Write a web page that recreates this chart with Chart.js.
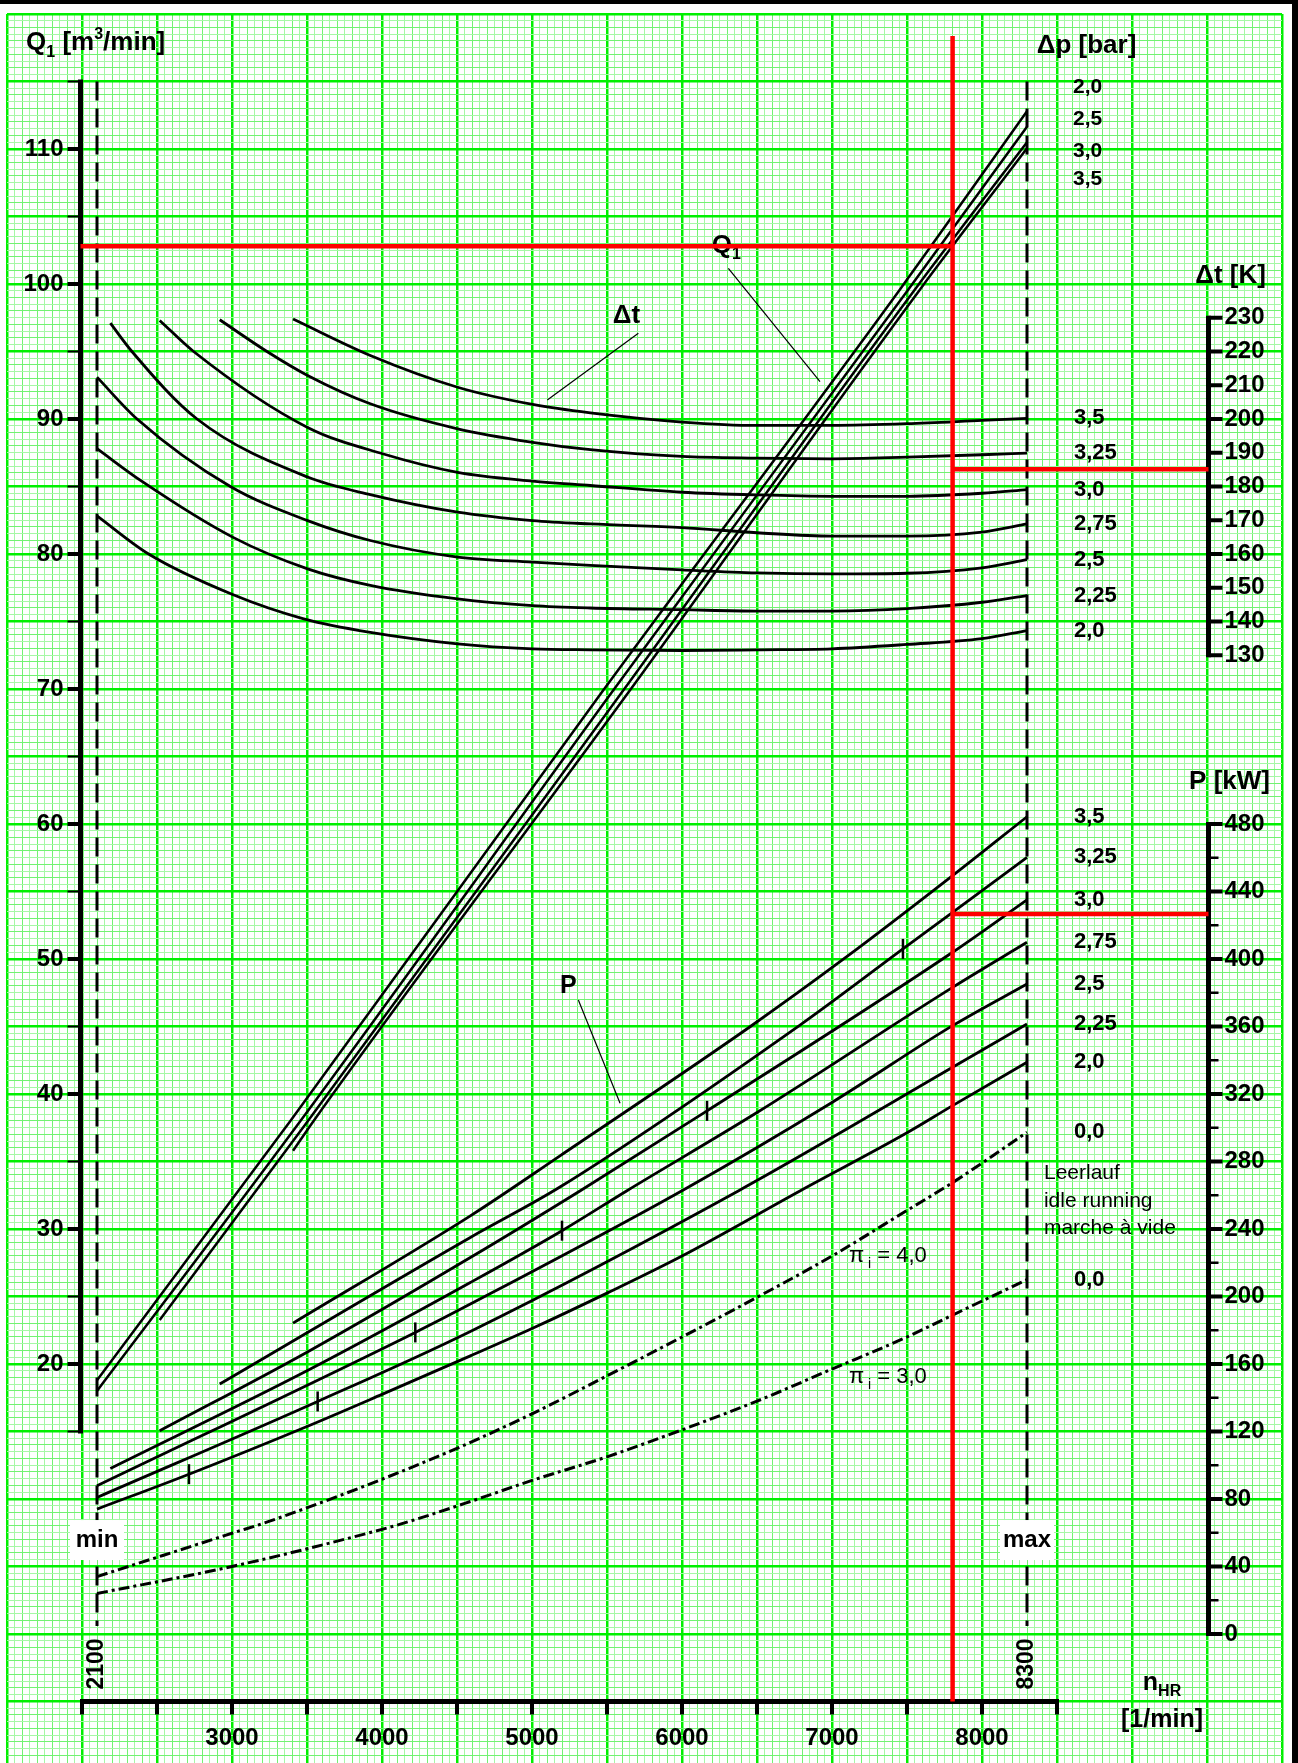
<!DOCTYPE html>
<html lang="de">
<head>
<meta charset="utf-8">
<title>Q1 / Δt / P über nHR</title>
<script src="https://cdn.jsdelivr.net/npm/chart.js@4.4.1/dist/chart.umd.min.js"></script>
<style>
  html, body { margin: 0; padding: 0; background: #fff; }
  #box { width: 1298px; height: 1763px; }
</style>
</head>
<body>
<div id="box"><canvas id="diagram" width="1298" height="1763"></canvas></div>
<script>
// ---- values ----

// speed axis n_HR [1/min]
const speedTicks = [3000, 4000, 5000, 6000, 7000, 8000];
const speedLimits = [2100, 8300];
const speedLimitNames = ['min', 'max'];

// axis tick labels
const flowTicks = [20, 30, 40, 50, 60, 70, 80, 90, 100, 110];
const tempTicks = [130, 140, 150, 160, 170, 180, 190, 200, 210, 220, 230];
const powerTicks = [0, 40, 80, 120, 160, 200, 240, 280, 320, 360, 400, 440, 480];

// Q1 [m3/min] for Δp = 2,0 / 2,5 / 3,0 / 3,5 bar
const flowNames = ['2,0', '2,5', '3,0', '3,5'];
const flowRpm20 = [2100, 3389, 5475, 7453, 8300];
const flow20 = [18.8, 38.0, 69.9, 99.6, 112.8];
const flowRpm25 = [2100, 3456, 5542, 7509, 8300];
const flow25 = [18.0, 38.0, 69.9, 99.6, 111.65];
const flowRpm30 = [2518, 3506, 5609, 7553, 8300];
const flow30 = [23.25, 38.0, 69.9, 99.6, 110.5];
const flowRpm35 = [3407, 3544, 5653, 7587, 8300];
const flow35 = [35.8, 38.0, 69.9, 99.6, 110.05];

// Δt [K] for Δp = 2,0 ... 3,5 bar
const curveNames = ['2,0', '2,25', '2,5', '2,75', '3,0', '3,25', '3,5'];
const tempRpm200 = [2100, 2444, 3004, 3478, 3922, 4504, 5004, 5389, 6000, 6500, 7000, 7500, 8000, 8300];
const temp200 = [171.3, 160.0, 148.0, 140.8, 136.8, 133.4, 131.9, 131.6, 131.4, 131.6, 131.9, 133.2, 134.9, 137.3];
const tempRpm225 = [2100, 2400, 3004, 3504, 3922, 4504, 5004, 5389, 6000, 6500, 7000, 7500, 8000, 8300];
const temp225 = [191.2, 181.5, 165.0, 155.6, 150.7, 146.7, 144.7, 144.0, 143.5, 143.1, 143.1, 143.8, 145.7, 147.7];
const tempRpm250 = [2100, 2367, 2989, 3504, 3922, 4504, 5004, 5389, 6000, 6500, 7000, 7500, 8000, 8300];
const temp250 = [212.4, 200.0, 180.0, 169.9, 164.0, 159.1, 157.6, 156.6, 155.3, 154.4, 154.1, 154.3, 155.9, 158.3];
const tempRpm275 = [2189, 2333, 2767, 3504, 3922, 4504, 5004, 5389, 6000, 6500, 7000, 7500, 8000, 8300];
const temp275 = [228.4, 220.0, 200.0, 182.8, 177.6, 172.4, 169.9, 168.9, 167.8, 166.3, 165.3, 165.3, 166.5, 168.9];
const tempRpm300 = [2518, 2744, 3504, 4004, 4504, 5004, 5389, 6000, 6500, 7000, 7500, 8000, 8300];
const temp300 = [229.2, 220.0, 197.5, 189.7, 184.2, 181.6, 180.3, 178.3, 177.5, 177.1, 177.1, 178.0, 179.1];
const tempRpm325 = [2918, 3233, 3504, 3922, 4504, 5004, 5389, 6000, 6500, 7000, 7500, 8000, 8300];
const temp325 = [229.4, 220.0, 212.9, 204.5, 197.1, 193.1, 190.9, 188.9, 188.4, 188.2, 188.7, 189.4, 189.9];
const tempRpm350 = [3407, 3922, 4504, 5004, 5389, 6000, 6500, 7000, 7500, 8000, 8300];
const temp350 = [229.6, 218.8, 209.4, 204.3, 201.8, 199.1, 198.1, 198.1, 198.6, 199.6, 200.2];

// P [kW] for Δp = 2,0 ... 3,5 bar
const powerRpm200 = [2100, 2713, 3500, 4000, 4589, 5000, 5500, 6000, 6789, 7500, 7804, 8300];
const power200 = [74.0, 94.7, 123, 142, 164.8, 181, 202, 224, 262.7, 297, 313.1, 338.8];
const powerRpm225 = [2100, 3571, 4589, 6378, 7804, 8300];
const power225 = [80.9, 137.8, 179.3, 262.7, 335.8, 361.5];
const powerRpm250 = [2100, 4222, 4589, 6000, 7000, 7804, 8300];
const power250 = [87.8, 178.7, 195.5, 262.7, 315, 360.5, 385.2];
const powerRpm275 = [2189, 3500, 4589, 5200, 5633, 6500, 7804, 8300];
const power275 = [98.1, 156, 208.3, 239, 262.7, 309, 383.2, 409.9];
const powerRpm300 = [2518, 3500, 4589, 5322, 6167, 7804, 8300];
const power300 = [120.4, 167, 223.1, 262.7, 310, 404, 435];
const powerRpm325 = [2918, 4589, 5189, 6789, 7473, 7804, 8300];
const power325 = [148.1, 235, 265, 361, 406, 427.7, 460.2];
const powerRpm350 = [3407, 4589, 5189, 6456, 7078, 7804, 8300];
const power350 = [184.2, 247.8, 283.5, 360, 400, 449.4, 484.3];

// idle running (Δp = 0,0) for πi = 4,0 and 3,0
const idleRpm40 = [2100, 3000, 3256, 4389, 5000, 5500, 6000, 6500, 7000, 7500, 7804, 8300];
const idle40 = [34, 59.7, 67, 105.8, 130.5, 153, 176, 199.5, 224, 251, 267.5, 297.3];
const idleRpm30 = [2100, 3000, 4000, 4211, 4589, 5000, 5500, 6000, 6500, 7000, 7500, 7804, 8300];
const idle30 = [24, 40, 62, 67.5, 78.5, 91, 105, 121, 138, 157, 176, 189, 210];

// short marks on the power curves
const markRpm = [2713, 3571, 4222, 5200, 6167, 7473];
const markPower = [94.7, 137.8, 178.7, 239, 310, 406];

// red reading example
const readRpm = 7804;
const readFlow = 102.8;
const readTemp = 185.1;
const readPower = 426.7;

// ---- axis relations (all three value axes share one height) ----
const Q_TOP = 120;
const Q_BOTTOM = -9.556;
const tempOf = q => 130 + (q - 72.5) * 4;
const powerOf = q => q * 8;
const flowAxisRpm = 1990;
const rightAxisRpm = 9510;
const speedAxisQ = -5;

const FONT = '"Liberation Sans", Arial, Helvetica, sans-serif';

const pairs = (xs, ys) => xs.map((x, i) => ({ x: x, y: ys[i] }));
const last = a => a[a.length - 1];

function curve(xs, ys, axis, width, dash) {
  return {
    data: pairs(xs, ys),
    yAxisID: axis,
    borderColor: '#000',
    borderWidth: width,
    borderDash: dash || [],
    pointRadius: 0,
    fill: false,
    cubicInterpolationMode: 'monotone',
    order: 2
  };
}

function redLine(points, axis) {
  return {
    data: points, yAxisID: axis, borderColor: '#ff0000', borderWidth: 4.5,
    pointRadius: 0, fill: false, order: 0
  };
}

function setFont(c, size, bold) {
  c.font = (bold ? 'bold ' : '') + size + 'px ' + FONT;
}

function write(c, s, x, y, size, align, base, bold) {
  setFont(c, size, bold !== false);
  c.textAlign = align || 'left';
  c.textBaseline = base || 'middle';
  c.fillText(s, x, y);
}

// text with sub- and superscripts, parts = [[text, '' | 'sub' | 'sup']]
function writeRich(c, parts, x, y, size, align, bold) {
  const small = Math.round(size * 0.62);
  const b = bold !== false;
  let total = 0;
  const widths = parts.map(p => {
    setFont(c, p[1] ? small : size, b);
    const w = c.measureText(p[0]).width;
    total += w;
    return w;
  });
  let cx = align === 'center' ? x - total / 2 : align === 'right' ? x - total : x;
  c.textAlign = 'left';
  c.textBaseline = 'alphabetic';
  parts.forEach((p, i) => {
    setFont(c, p[1] ? small : size, b);
    const dy = p[1] === 'sub' ? size * 0.25 : p[1] === 'sup' ? -size * 0.42 : 0;
    c.fillText(p[0], cx, y + dy);
    cx += widths[i];
  });
}

function seg(c, x1, y1, x2, y2, w) {
  c.lineWidth = w;
  c.beginPath();
  c.moveTo(x1, y1);
  c.lineTo(x2, y2);
  c.stroke();
}

const tempEnds = [temp200, temp225, temp250, temp275, temp300, temp325, temp350].map(last);
const powerEnds = [power200, power225, power250, power275, power300, power325, power350].map(last);

const paper = {
  id: 'paper',
  beforeDraw(chart) {
    const c = chart.ctx;
    c.save();
    c.fillStyle = '#fff';
    c.fillRect(0, 0, chart.width, chart.height);
    c.restore();
  },
  beforeDatasetsDraw(chart) {
    const c = chart.ctx;
    const s = chart.scales;
    const X = v => s.x.getPixelForValue(v);
    const Q = v => s.y.getPixelForValue(v);
    const T = v => s.yT.getPixelForValue(v);
    const P = v => s.yP.getPixelForValue(v);
    c.save();
    c.strokeStyle = '#000';
    c.fillStyle = '#000';
    c.lineCap = 'butt';

    // frame
    c.fillRect(0, 0, chart.width, 4);
    c.fillRect(chart.width - 6, 0, 6, chart.height);

    // Q1 axis (left)
    const qa = X(flowAxisRpm);
    seg(c, qa, Q(115) - 2, qa, Q(15) + 2, 5);
    for (let v = 15; v <= 115; v += 5) seg(c, qa - 13, Q(v), qa, Q(v), v % 10 === 0 ? 4 : 2);
    flowTicks.forEach(v => write(c, String(v), qa - 17, Q(v), 24, 'right'));
    writeRich(c, [['Q', ''], ['1', 'sub'], [' [m', ''], ['3', 'sup'], ['/min]', '']], X(1627), Q(117.33), 26, 'left');

    // speed axis (bottom)
    const ny = Q(speedAxisQ);
    seg(c, X(2000) - 2, ny, X(8500) + 2, ny, 5);
    for (let v = 2000; v <= 8500; v += 500) seg(c, X(v), ny, X(v), ny + 13, 4);
    speedTicks.forEach(v => write(c, String(v), X(v), Q(-7.7), 24, 'center'));
    writeRich(c, [['n', ''], ['HR', 'sub']], X(9200), Q(-4.15), 25, 'center');
    write(c, '[1/min]', X(9200), Q(-6.89), 25, 'center', 'alphabetic');
    speedLimits.forEach(v => {
      c.save();
      c.translate(X(v), Q(-2.22));
      c.rotate(-Math.PI / 2);
      write(c, String(v), 0, 0, 23, 'center');
      c.restore();
    });

    // Δt axis and P axis (right)
    const ra = X(rightAxisRpm);
    seg(c, ra, T(130) + 2, ra, T(230) - 2, 5);
    tempTicks.forEach(v => {
      seg(c, ra, T(v), ra + 14, T(v), 4);
      write(c, String(v), ra + 16, T(v), 24, 'left');
    });
    seg(c, ra, P(0) + 2, ra, P(480) - 2, 5);
    for (let v = 0; v <= 480; v += 20) {
      const major = v % 40 === 0;
      seg(c, ra, P(v), ra + (major ? 14 : 10), P(v), major ? 4 : 2.5);
    }
    powerTicks.forEach(v => write(c, String(v), ra + 16, P(v), 24, 'left'));
    write(c, 'Δt [K]', X(9893), Q(100.05), 26, 'right', 'alphabetic');
    write(c, 'P [kW]', X(9920), P(500.7), 26, 'right', 'alphabetic');

    // Δp labels
    write(c, 'Δp [bar]', X(8365), Q(117.11), 26, 'left', 'alphabetic');
    const flowLabelQ = [114.61, 112.22, 109.87, 107.76];
    flowNames.forEach((n, i) => write(c, n, X(8607), Q(flowLabelQ[i]), 21, 'left'));
    curveNames.forEach((n, i) => write(c, n, X(8613), T(tempEnds[i]), 22, 'left'));
    curveNames.forEach((n, i) => write(c, n, X(8613), P(powerEnds[i]), 22, 'left'));
    write(c, '0,0', X(8613), P(last(idle40)), 22, 'left');
    write(c, '0,0', X(8613), P(last(idle30)), 22, 'left');

    // idle running notes
    write(c, 'Leerlauf', X(8413), P(273.2), 21, 'left', 'middle', false);
    write(c, 'idle running', X(8413), P(256.6), 21, 'left', 'middle', false);
    write(c, 'marche à vide', X(8413), P(240.6), 21, 'left', 'middle', false);
    writeRich(c, [['π', ''], [' i', 'sub'], [' = 4,0', '']], X(7113), P(220.4), 22, 'left', false);
    writeRich(c, [['π', ''], [' i', 'sub'], [' = 3,0', '']], X(7113), P(148.7), 22, 'left', false);

    // curve family names with leader lines
    writeRich(c, [['Q', ''], ['1', 'sub']], X(6198), Q(102.3), 26, 'left');
    write(c, 'Δt', X(5538), Q(97.11), 26, 'left', 'alphabetic');
    write(c, 'P', X(5187), P(379.9), 25, 'left', 'alphabetic');
    seg(c, X(6309), Q(101.16), X(6920), Q(92.76), 1.2);
    seg(c, X(5709), Q(96.35), X(5102), Q(91.41), 1.2);
    seg(c, X(5309), P(375.7), X(5587), P(314.5), 1.2);
    c.restore();
  },
  afterDatasetsDraw(chart) {
    const c = chart.ctx;
    const s = chart.scales;
    c.save();
    speedLimits.forEach((v, i) => {
      const x = s.x.getPixelForValue(v);
      const y = s.y.getPixelForValue(6.96);
      c.fillStyle = '#fff';
      c.fillRect(x - 27, y - 20, 54, 40);
      c.fillStyle = '#000';
      write(c, speedLimitNames[i], x, y, 24, 'center');
    });
    c.restore();
  }
};

// graph paper: heavy line every 500 1/min and 5 m3/min, finer lines in between
const onStep = (v, step) => Math.abs(v / step - Math.round(v / step)) < 1e-6;
const paperColor = (v, big, mid) => onStep(v, big) ? '#00f000' : onStep(v, mid) ? '#72f272' : '#a6f8a6';
const paperWidth = (v, big) => onStep(v, big) ? 2.5 : 1;

const datasets = [
  // red reading example on top
  redLine([{ x: readRpm, y: 118.37 }, { x: readRpm, y: speedAxisQ }], 'y'),
  redLine([{ x: flowAxisRpm, y: readFlow }, { x: readRpm, y: readFlow }], 'y'),
  redLine([{ x: readRpm, y: readTemp }, { x: rightAxisRpm, y: readTemp }], 'yT'),
  redLine([{ x: readRpm, y: readPower }, { x: rightAxisRpm, y: readPower }], 'yP'),
  // speed limits
  {
    data: [{ x: speedLimits[0], y: 115 }, { x: speedLimits[0], y: 0.6 }], yAxisID: 'y',
    borderColor: '#000', borderWidth: 3, borderDash: [19, 8], pointRadius: 0, order: 3
  },
  {
    data: [{ x: speedLimits[1], y: 115 }, { x: speedLimits[1], y: 0.6 }], yAxisID: 'y',
    borderColor: '#000', borderWidth: 3, borderDash: [19, 8], pointRadius: 0, order: 3
  },
  // Q1
  curve(flowRpm20, flow20, 'y', 2.5),
  curve(flowRpm25, flow25, 'y', 2.5),
  curve(flowRpm30, flow30, 'y', 2.5),
  curve(flowRpm35, flow35, 'y', 2.5),
  // Δt
  curve(tempRpm200, temp200, 'yT', 2.8),
  curve(tempRpm225, temp225, 'yT', 2.8),
  curve(tempRpm250, temp250, 'yT', 2.8),
  curve(tempRpm275, temp275, 'yT', 2.8),
  curve(tempRpm300, temp300, 'yT', 2.8),
  curve(tempRpm325, temp325, 'yT', 2.8),
  curve(tempRpm350, temp350, 'yT', 2.8),
  // P
  curve(powerRpm200, power200, 'yP', 2.8),
  curve(powerRpm225, power225, 'yP', 2.8),
  curve(powerRpm250, power250, 'yP', 2.8),
  curve(powerRpm275, power275, 'yP', 2.8),
  curve(powerRpm300, power300, 'yP', 2.8),
  curve(powerRpm325, power325, 'yP', 2.8),
  curve(powerRpm350, power350, 'yP', 2.8),
  // idle running
  curve(idleRpm40, idle40, 'yP', 3, [11, 4, 3, 4]),
  curve(idleRpm30, idle30, 'yP', 3, [11, 4, 3, 4]),
  // marks
  {
    data: pairs(markRpm, markPower), yAxisID: 'yP', showLine: false,
    pointStyle: 'line', pointRotation: 90, pointRadius: 10,
    pointBorderWidth: 2.5, pointBorderColor: '#000', borderColor: '#000', order: 1
  }
];

new Chart(document.getElementById('diagram'), {
  type: 'line',
  data: { datasets: datasets },
  options: {
    responsive: false,
    devicePixelRatio: 1,
    animation: false,
    events: [],
    layout: { autoPadding: false, padding: { left: 7, right: 16, top: 14, bottom: 0 } },
    plugins: { legend: { display: false }, tooltip: { enabled: false } },
    scales: {
      x: {
        type: 'linear', min: 1500, max: 10000,
        afterFit: scale => { scale.height = 0; scale.paddingLeft = 0; scale.paddingRight = 0; },
        ticks: { stepSize: 50, display: false, padding: 0 },
        border: { display: false },
        grid: {
          drawTicks: false,
          color: ctx => paperColor(ctx.tick.value, 500, 100),
          lineWidth: ctx => paperWidth(ctx.tick.value, 500)
        }
      },
      y: {
        type: 'linear', min: Q_BOTTOM, max: Q_TOP,
        afterFit: scale => { scale.width = 0; scale.paddingTop = 0; scale.paddingBottom = 0; },
        ticks: { stepSize: 0.5, display: false, padding: 0 },
        border: { display: false },
        grid: {
          drawTicks: false,
          color: ctx => paperColor(ctx.tick.value, 5, 1),
          lineWidth: ctx => paperWidth(ctx.tick.value, 5)
        }
      },
      yT: { type: 'linear', display: false, min: tempOf(Q_BOTTOM), max: tempOf(Q_TOP) },
      yP: { type: 'linear', display: false, min: powerOf(Q_BOTTOM), max: powerOf(Q_TOP) }
    }
  },
  plugins: [paper]
});
</script>
</body>
</html>
